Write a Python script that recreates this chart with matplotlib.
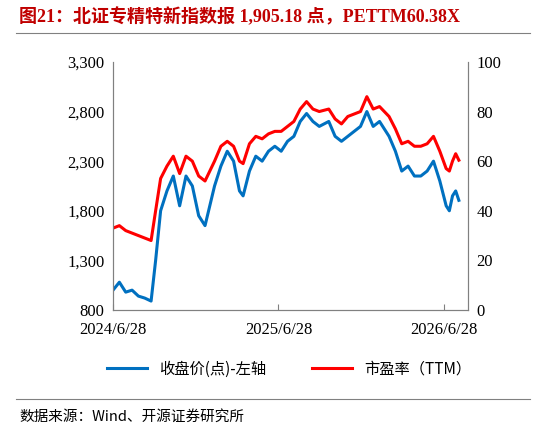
import matplotlib
matplotlib.use("Agg")
import matplotlib.pyplot as plt
import pandas as pd

plt.rcParams["font.family"] = ["Liberation Serif", "Noto Sans CJK SC", "DejaVu Sans"]

DATES = ["2024-06-28", "2024-07-12", "2024-07-26", "2024-08-09", "2024-08-23", "2024-09-06",
         "2024-09-20", "2024-09-30", "2024-10-11", "2024-10-25", "2024-11-08", "2024-11-22",
         "2024-12-06", "2024-12-20", "2025-01-03", "2025-01-17", "2025-02-07", "2025-02-21",
         "2025-03-07", "2025-03-21", "2025-04-03", "2025-04-11", "2025-04-25", "2025-05-09",
         "2025-05-23", "2025-06-06", "2025-06-20", "2025-07-04", "2025-07-18", "2025-08-01",
         "2025-08-15", "2025-08-29", "2025-09-12", "2025-09-26", "2025-10-17", "2025-10-31",
         "2025-11-14", "2025-11-28", "2025-12-12", "2025-12-26", "2026-01-09", "2026-01-23",
         "2026-02-06", "2026-02-27", "2026-03-13", "2026-03-27", "2026-04-10", "2026-04-24",
         "2026-05-08", "2026-05-22", "2026-06-05", "2026-06-19", "2026-07-03", "2026-07-10",
         "2026-07-17", "2026-07-24", "2026-07-31"]
INDEX = [1000, 1080, 980, 1000, 940, 920, 890, 1300, 1800, 2000, 2150, 1850, 2150, 2050,
         1750, 1650, 2050, 2250, 2400, 2300, 2000, 1950, 2200, 2350, 2300, 2400, 2450, 2400,
         2500, 2550, 2700, 2780, 2700, 2650, 2700, 2550, 2500, 2550, 2600, 2650, 2800, 2650,
         2700, 2550, 2400, 2200, 2250, 2150, 2150, 2200, 2300, 2100, 1850, 1800, 1950, 2000,
         1905.18]
PE = [33, 34, 32, 31, 30, 29, 28, 40, 53, 58, 62, 55, 62, 60, 54, 52, 60, 66, 68, 66, 60,
      59, 67, 70, 69, 71, 72, 72, 74, 76, 81, 84, 81, 80, 81, 77, 75, 78, 79, 80, 86, 81,
      82, 78, 73, 67, 68, 66, 66, 67, 70, 64, 57, 56, 60, 63, 60.38]
TICKS = ["2024-06-28", "2025-06-28", "2026-06-28"]
TICK_LABELS = ["2024/6/28", "2025/6/28", "2026/6/28"]

dates = pd.to_datetime(DATES)

fig = plt.figure(figsize=(5.46, 4.36), dpi=100)
ax = fig.add_axes([0.207, 0.289, 0.65, 0.569])
ax2 = ax.twinx()

l1, = ax.plot(dates, INDEX, color="#0070C0", lw=2.2, label="收盘价(点)-左轴")
l2, = ax2.plot(dates, PE, color="#FF0000", lw=2.2, label="市盈率（TTM）")
ax.set_zorder(ax2.get_zorder() + 1)
ax.patch.set_visible(False)

ax.set_ylim(800, 3300)
ax.set_yticks(range(800, 3301, 500))
ax.set_yticklabels([f"{v:,}" for v in range(800, 3301, 500)])
ax2.set_ylim(0, 100)
ax2.set_yticks(range(0, 101, 20))
ax.set_xlim(pd.Timestamp("2024-06-28"), pd.Timestamp("2026-08-20"))
ax.set_xticks(pd.to_datetime(TICKS))
ax.set_xticklabels(TICK_LABELS)
for a in (ax, ax2):
    a.tick_params(labelsize=12, length=0, pad=6)
    a.spines["top"].set_visible(False)
    for s in a.spines.values():
        s.set_color("#808080")
ax.tick_params(axis="x", length=4, direction="in", color="#808080", pad=9)

fig.legend(handles=[l1, l2], loc="center", bbox_to_anchor=(0.53, 0.153), ncol=2,
           frameon=False, handlelength=2.6, columnspacing=3,
           prop={"family": ["Noto Sans CJK SC", "DejaVu Sans"], "size": 11})

fig.text(0.035, 0.962, "图21：北证专精特新指数报 1,905.18 点，PETTM60.38X", color="#C00000",
         fontsize=13, fontweight="bold", va="center",
         family=["Liberation Serif", "Noto Sans CJK SC"])
fig.add_artist(plt.Line2D([0.03, 0.97], [0.925, 0.925], color="#808080", lw=0.8))
fig.add_artist(plt.Line2D([0.03, 0.97], [0.085, 0.085], color="#808080", lw=0.8))
fig.text(0.035, 0.045, "数据来源：Wind、开源证券研究所", fontsize=10.5, va="center",
         family=["Noto Sans CJK SC", "DejaVu Sans"])

fig.savefig("out.png", dpi=100)
